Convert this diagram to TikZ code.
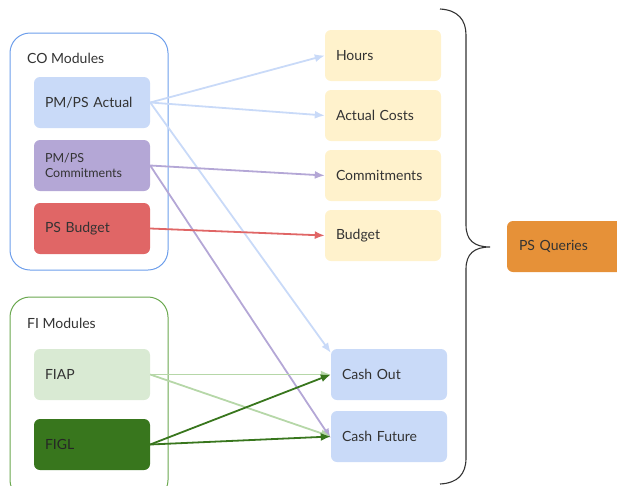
\documentclass[tikz,border=0pt]{standalone}
\usepackage{fontspec}
\setmainfont{Lato}
\usetikzlibrary{arrows.meta}
\definecolor{cblue}{HTML}{C9DAF8}
\definecolor{cpurple}{HTML}{B4A7D6}
\definecolor{cred}{HTML}{E06666}
\definecolor{cgreenl}{HTML}{D9EAD3}
\definecolor{cgreend}{HTML}{38761D}
\definecolor{cyellow}{HTML}{FFF2CC}
\definecolor{corange}{HTML}{E69138}
\definecolor{cobord}{HTML}{6D9EEB}
\definecolor{fibord}{HTML}{6AA84F}
\definecolor{agreenl}{HTML}{B6D7A8}
\definecolor{txt}{HTML}{333333}
\tikzset{
  box/.style={rectangle, rounded corners=6pt, minimum width=116pt, minimum height=51pt,
    text width=94pt, inner xsep=11pt, align=left, font=\fontsize{14}{16}\selectfont, text=txt},
  group/.style={rounded corners=20pt, line width=1pt},
  conn/.style={line width=1.8pt, -{Latex[length=10pt,width=8pt]}},
  grouplabel/.style={anchor=west, inner sep=0pt, font=\fontsize{14}{16}\selectfont, text=txt}
}
\begin{document}
\begin{tikzpicture}[x=1pt,y=-1pt]
\useasboundingbox (0,0) rectangle (617,485);
\clip (0,0) rectangle (617,485);
% groups
\draw[group, cobord] (10,33) rectangle (168,270);
\node[grouplabel] (colab) at (27,58) {CO Modules};
\draw[group, fibord] (10,297) rectangle (168,500);
\node[grouplabel] (filab) at (27,323) {FI Modules};
% left nodes
\node[box, fill=cblue] (act) at (92,102.5) {PM/PS Actual};
\node[box, fill=cpurple, font=\fontsize{12.5}{14.5}\selectfont] (com) at (92,165.5) {PM/PS\\Commitments};
\node[box, fill=cred] (bud) at (92,228.5) {PS Budget};
\node[box, fill=cgreenl] (fiap) at (92,374.5) {FIAP};
\node[box, fill=cgreend, text=black!85] (figl) at (92,444.5) {FIGL};
% right nodes
\node[box, fill=cyellow] (hours) at (383,55.5) {Hours};
\node[box, fill=cyellow] (acost) at (383,115.5) {Actual Costs};
\node[box, fill=cyellow] (rcom) at (383,175.5) {Commitments};
\node[box, fill=cyellow] (rbud) at (383,235.5) {Budget};
\node[box, fill=cblue] (cout) at (389,374.5) {Cash Out};
\node[box, fill=cblue] (cfut) at (389,436.5) {Cash Future};
\node[box, fill=corange, minimum width=124pt, text width=100pt] (psq) at (569,246.5) {PS Queries};
% brace
\draw[txt, line width=1.1pt] (440,9) .. controls (458,10) and (466,20) .. (466,35)
  -- (466,225) .. controls (466,240) and (474,247) .. (490,247)
  .. controls (474,247) and (466,254) .. (466,269)
  -- (466,458) .. controls (466,474) and (458,483) .. (440,484);
% connectors
\draw[conn, cblue] (act.east) -- (hours.west);
\draw[conn, cblue] (act.east) -- (acost.west);
\draw[conn, cblue] (act.east) -- ([yshift=-4pt]cout.north west);
\draw[conn, cpurple] (com.east) -- (rcom.west);
\draw[conn, cpurple] (com.east) -- ([yshift=-2pt]cfut.west);
\draw[conn, cred] (bud.east) -- (rbud.west);
\draw[conn, agreenl] (fiap.east) -- (cout.west);
\draw[conn, agreenl] (fiap.east) -- (cfut.west);
\draw[conn, cgreend] (figl.east) -- (cout.west);
\draw[conn, cgreend] (figl.east) -- (cfut.west);
\end{tikzpicture}
\end{document}
